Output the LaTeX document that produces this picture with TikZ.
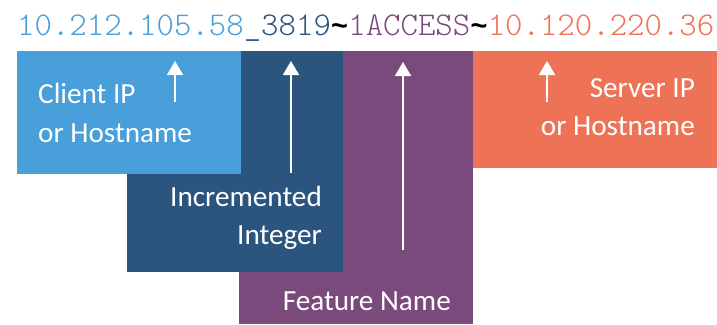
\documentclass[tikz,border=0pt]{standalone}
\usepackage{fontspec}
\setmainfont{Carlito}
\newfontfamily\codefont{Latin Modern Mono Light}
\newfontfamily\sepfont{Liberation Mono}
\usetikzlibrary{arrows.meta}
\definecolor{clientblue}{HTML}{489FDA}
\definecolor{intblue}{HTML}{2B547E}
\definecolor{featpurple}{HTML}{7B4A7C}
\definecolor{serverorange}{HTML}{EE7256}
\tikzset{
  field/.style={fill=#1, draw=none},
  label/.style={text=white, font=\fontsize{29.2}{39}\selectfont, inner sep=0pt},
  pointer/.style={white, line width=1.8pt, -{Triangle[width=16pt,length=14pt]}},
}
\newcommand{\sep}{{\sepfont\fontsize{29}{29}\selectfont\bfseries\char"7E}}
\begin{document}
\begin{tikzpicture}[x=1pt, y=-1pt]
  \useasboundingbox (0,0) rectangle (717,324);

  % field blocks, back to front
  \fill[field=serverorange] (473,51) rectangle (717,168);
  \fill[field=featpurple]   (239,51) rectangle (473,324);
  \fill[field=intblue]      (127,51) rectangle (343,272);
  \fill[field=clientblue]   (17,51)  rectangle (241,174);

  % the identifier string
  \node[anchor=base west, inner sep=0pt, font=\fontsize{33.2}{33}\selectfont\codefont] (ident) at (17,35)
    {\textcolor{clientblue}{10.212.105.58}\textcolor{intblue}{\_3819}\sep\textcolor{featpurple}{1ACCESS}\sep\textcolor{serverorange}{10.120.220.36}};

  % labels
  \node[label, anchor=base west] (client1) at (38,103) {Client IP};
  \node[label, anchor=base west] (client2) at (38,142) {or Hostname};
  \node[label, anchor=base east] (server1) at (695,97) {Server IP};
  \node[label, anchor=base east] (server2) at (695,135) {or Hostname};
  \node[label, anchor=base east] (int1) at (322,206) {Incremented};
  \node[label, anchor=base east] (int2) at (322,244) {Integer};
  \node[label, anchor=base east] (feat) at (451,310) {Feature Name};

  % pointer arrows
  \coordinate (clientTail) at (175,102);  \coordinate (clientTip) at (175,61);
  \coordinate (intTail) at (291,173);     \coordinate (intTip) at (291,61);
  \coordinate (featTail) at (403,250);    \coordinate (featTip) at (403,62);
  \coordinate (serverTail) at (547,102);  \coordinate (serverTip) at (547,61);
  \draw[pointer] (clientTail) -- (clientTip);
  \draw[pointer] (intTail) -- (intTip);
  \draw[pointer] (featTail) -- (featTip);
  \draw[pointer] (serverTail) -- (serverTip);
\end{tikzpicture}
\end{document}
